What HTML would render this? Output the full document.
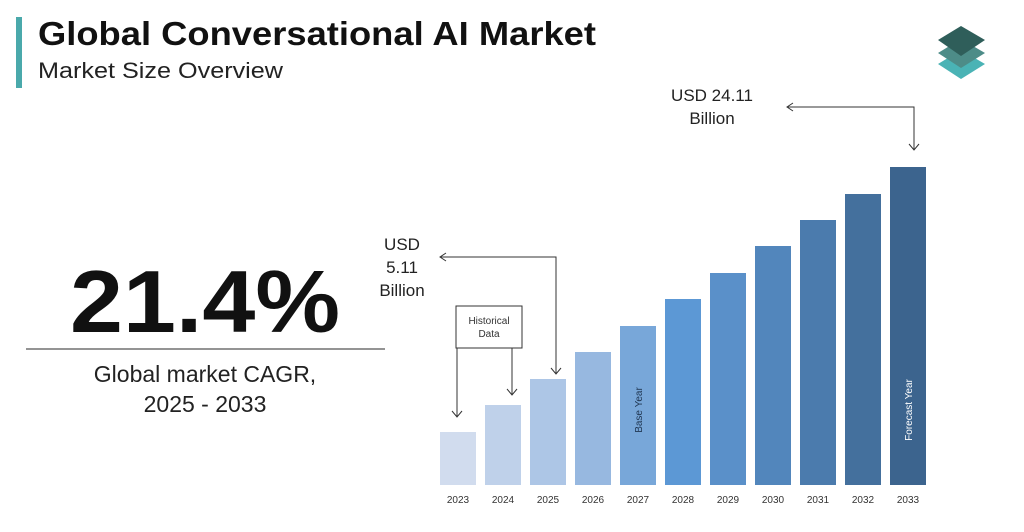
<!DOCTYPE html>
<html><head><style>
body{margin:0;width:1024px;height:527px;background:#fff;overflow:hidden;font-family:"Liberation Sans",sans-serif;}
</style></head><body>
<svg width="1024" height="527" viewBox="0 0 1024 527" xmlns="http://www.w3.org/2000/svg" font-family="Liberation Sans, sans-serif">
<rect x="16" y="17" width="6" height="71" fill="#4aa9ab"/>
<text x="38" y="45" font-size="33" font-weight="bold" fill="#111" textLength="558" lengthAdjust="spacingAndGlyphs">Global Conversational AI Market</text>
<text x="38" y="78" font-size="22" fill="#222" textLength="245" lengthAdjust="spacingAndGlyphs">Market Size Overview</text>
<polygon points="961,50 985,64 961,79 938,64" fill="#4ab3b5"/>
<polygon points="961,39 985,53 961,68 938,53" fill="#4d8c88"/>
<polygon points="961,26 985,40 961,56 938,40" fill="#2f5e5a"/>
<text x="205" y="332" font-size="88" font-weight="bold" fill="#111" text-anchor="middle" textLength="270" lengthAdjust="spacingAndGlyphs">21.4%</text>
<line x1="26" y1="349" x2="385" y2="349" stroke="#555" stroke-width="1.2"/>
<text x="205" y="382" font-size="23" fill="#222" text-anchor="middle">Global market CAGR,</text>
<text x="205" y="412" font-size="23" fill="#222" text-anchor="middle">2025 - 2033</text>
<g font-size="17" fill="#222" text-anchor="middle">
<text x="402" y="250">USD</text><text x="402" y="273">5.11</text><text x="402" y="296">Billion</text>
<text x="712" y="101">USD 24.11</text><text x="712" y="124">Billion</text>
</g>
<g stroke="#333" stroke-width="1" fill="none">
<rect x="456" y="306" width="66" height="42"/>
<path d="M457,348 V417 M452,411 L457,417 L462,411"/>
<path d="M512,348 V395 M507,389 L512,395 L517,389"/>
<path d="M556,374 V257 H440 M446,253 L440,257 L446,261 M551,368 L556,374 L561,368"/>
<path d="M914,150 V107 H787 M793,103 L787,107 L793,111 M909,144 L914,150 L919,144"/>
</g>
<text x="489" y="324" font-size="10" fill="#333" text-anchor="middle">Historical</text>
<text x="489" y="337" font-size="10" fill="#333" text-anchor="middle">Data</text>
<g>
<rect x="440" y="432" width="36" height="53" fill="#d1dcee"/>
<rect x="485" y="405" width="36" height="80" fill="#bfd1ea"/>
<rect x="530" y="379" width="36" height="106" fill="#adc6e6"/>
<rect x="575" y="352" width="36" height="133" fill="#97b8e0"/>
<rect x="620" y="326" width="36" height="159" fill="#78a7d9"/>
<rect x="665" y="299" width="36" height="186" fill="#5c98d5"/>
<rect x="710" y="273" width="36" height="212" fill="#5a90c9"/>
<rect x="755" y="246" width="36" height="239" fill="#5286bc"/>
<rect x="800" y="220" width="36" height="265" fill="#4b7bad"/>
<rect x="845" y="194" width="36" height="291" fill="#44709d"/>
<rect x="890" y="167" width="36" height="318" fill="#3c648e"/>
</g>
<text transform="translate(642,410) rotate(-90)" font-size="10" fill="#1f3550" text-anchor="middle">Base Year</text>
<text transform="translate(912,410) rotate(-90)" font-size="10" fill="#fff" text-anchor="middle">Forecast Year</text>
<g font-size="10" fill="#333" text-anchor="middle">
<text x="458" y="503">2023</text><text x="503" y="503">2024</text><text x="548" y="503">2025</text><text x="593" y="503">2026</text><text x="638" y="503">2027</text><text x="683" y="503">2028</text><text x="728" y="503">2029</text><text x="773" y="503">2030</text><text x="818" y="503">2031</text><text x="863" y="503">2032</text><text x="908" y="503">2033</text>
</g>
</svg>
</body></html>
